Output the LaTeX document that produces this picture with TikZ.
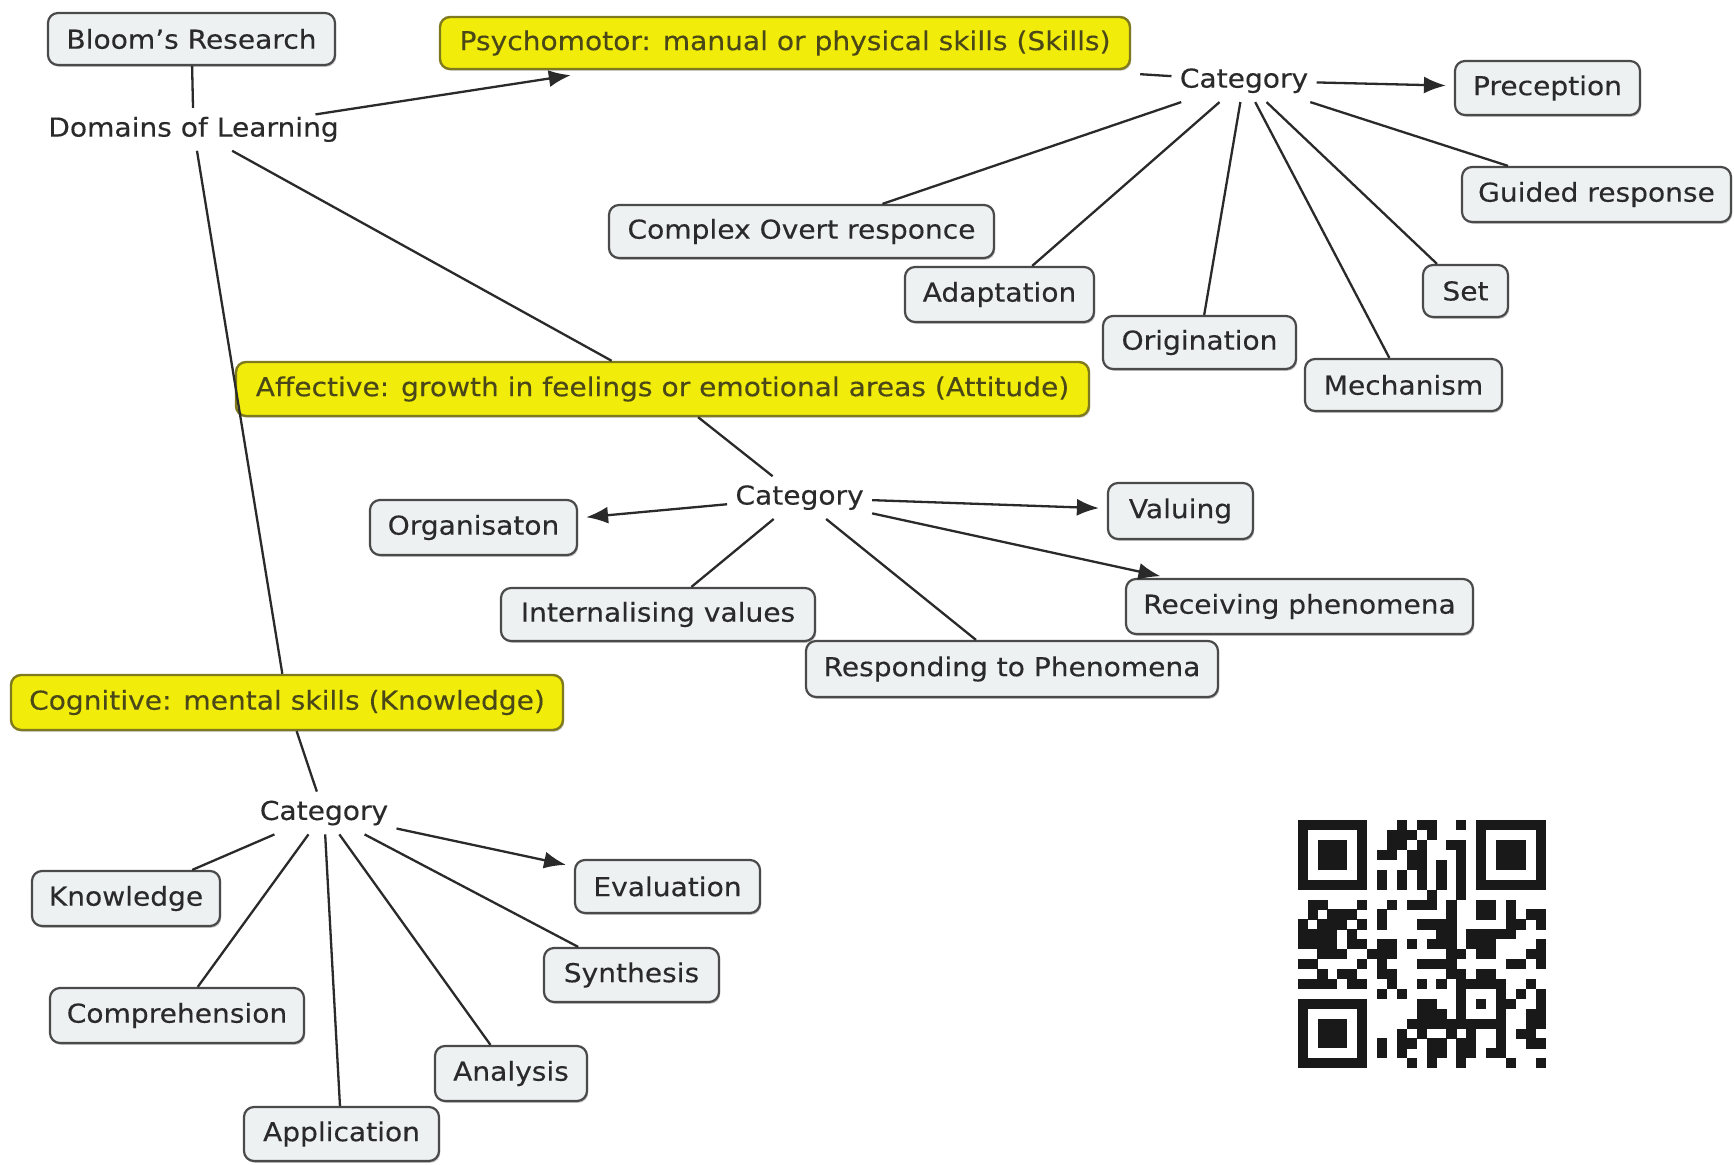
\documentclass[tikz,border=0pt]{standalone}
\usepackage{fontspec}
\setmainfont{DejaVu Sans}[FakeStretch=1.08,FakeBold=0.3]
\usetikzlibrary{arrows.meta,shadows,calc}
\definecolor{boxfill}{HTML}{EEF1F2}
\definecolor{boxline}{HTML}{4A4A4A}
\definecolor{yfill}{HTML}{F2EC0A}
\definecolor{yline}{HTML}{7F7A1E}
\definecolor{ytext}{HTML}{4A4818}
\definecolor{txt}{HTML}{2A2A2A}
\definecolor{conn}{HTML}{2A2A2A}
\begin{document}
\begin{tikzpicture}[x=0.5pt,y=-0.5pt,
  font=\fontsize{13}{15}\selectfont,
  sz/.style 2 args={minimum width=#1*0.5pt, minimum height=#2*0.5pt},
  wbox/.style={draw=boxline, fill=boxfill, line width=1.1pt, rounded corners=5pt, text=txt, inner sep=0pt,
    drop shadow={shadow xshift=0.6pt, shadow yshift=-0.9pt, opacity=0.4, fill=black!60}},
  ybox/.style={draw=yline, fill=yfill, line width=1.2pt, rounded corners=5pt, text=ytext, inner sep=0pt,
    drop shadow={shadow xshift=0.6pt, shadow yshift=-0.9pt, opacity=0.3, fill=black!60}},
  lbl/.style={text=txt, inner xsep=4pt, inner ysep=0pt, minimum height=21pt},
  link/.style={draw=conn, line width=1.15pt},
  arr/.style={link, -{Latex[length=11pt,width=8.5pt]}, shorten >=4pt}
]
\fill[white] (0,0) rectangle (1734,1165);
\useasboundingbox (0,0) rectangle (1734,1165);

% boxes
\node[wbox, sz={287}{52}] (bloom) at (191.5,39) {Bloom's Research};
\node[lbl] (domains) at (193.5,129.4) {Domains of Learning};
\node[ybox, sz={690}{52}] (psych) at (785,43) {Psychomotor: manual or physical skills (Skills)};
\node[lbl] (cat1) at (1244,80.7) {Category};
\node[wbox, sz={185}{54}] (preception) at (1547.5,88) {Preception};
\node[wbox, sz={269}{55}] (guided) at (1596.5,194.5) {Guided response};
\node[wbox, sz={385}{53}] (complex) at (801.5,231.5) {Complex Overt responce};
\node[wbox, sz={189}{55}] (adaptation) at (999.5,294.5) {Adaptation};
\node[wbox, sz={85}{52}] (set) at (1465.5,291) {Set};
\node[wbox, sz={193}{53}] (origination) at (1199.5,342.5) {Origination};
\node[wbox, sz={197}{52}] (mechanism) at (1403.5,385) {Mechanism};

\node[ybox, sz={853}{54}] (affective) at (662.5,389) {Affective: growth in feelings or emotional areas (Attitude)};
\node[lbl] (cat2) at (799.6,497.6) {Category};
\node[wbox, sz={207}{55}] (organisaton) at (473.5,527.5) {Organisaton};
\node[wbox, sz={145}{56}] (valuing) at (1180.5,511) {Valuing};
\node[wbox, sz={314}{53}] (internalising) at (658,614.5) {Internalising values};
\node[wbox, sz={347}{55}] (receiving) at (1299.5,606.5) {Receiving phenomena};
\node[wbox, sz={412}{56}] (responding) at (1012,669) {Responding to Phenomena};

\node[ybox, sz={552}{55}] (cognitive) at (287,702.5) {Cognitive: mental skills (Knowledge)};
\node[lbl] (cat3) at (324,813) {Category};
\node[wbox, sz={188}{55}] (knowledge) at (126,898.5) {Knowledge};
\node[wbox, sz={185}{53}] (evaluation) at (667.5,886.5) {Evaluation};
\node[wbox, sz={175}{54}] (synthesis) at (631.5,975) {Synthesis};
\node[wbox, sz={254}{55}] (comprehension) at (177,1015.5) {Comprehension};
\node[wbox, sz={152}{55}] (analysis) at (511,1073.5) {Analysis};
\node[wbox, sz={195}{54}] (application) at (341.5,1134) {Application};

% connectors
\draw[link] (bloom) -- (domains);
\draw[arr, shorten >=0pt] ($(domains.center)+(122,-15)$) -- ($(psych.south west)+(132,5)$);
\draw[link] (domains) -- (affective);
\draw[link] (domains) -- (cognitive);
\draw[link] ($(psych.south east)+(9,4)$) -- (cat1);
\draw[arr] (cat1) -- (preception);
\foreach \n in {guided,complex,adaptation,origination,mechanism,set}
  \draw[link] (cat1) -- (\n);
\draw[link] (affective) -- (cat2);
\foreach \n in {organisaton,valuing,receiving}
  \draw[arr] (cat2) -- (\n);
\foreach \n in {internalising,responding}
  \draw[link] (cat2) -- (\n);
\draw[link] (cognitive) -- (cat3);
\draw[arr] (cat3) -- (evaluation);
\foreach \n in {knowledge,comprehension,application,analysis,synthesis}
  \draw[link] (cat3) -- (\n);

% QR code
\begin{scope}[shift={(1297.7,820.3)}]
\def\m{9.92}
\foreach \fx/\fy in {0/0,18/0,0/18}{
  \fill[black!90] (\fx*\m,\fy*\m) rectangle ++(7*\m,7*\m);
  \fill[white] (\fx*\m+\m,\fy*\m+\m) rectangle ++(5*\m,5*\m);
  \fill[black!90] (\fx*\m+2*\m,\fy*\m+2*\m) rectangle ++(3*\m,3*\m);
}
\foreach \r/\cs in {0/{10,12,13,16},1/{9,10,11,13},2/{9,10,12,15,16},3/{8,9,11,12,16},
  4/{11,12,14,16},5/{8,10,12,14,16},6/{8,10,12,14,16},7/{13,16},
  8/{1,2,6,9,11,12,13,15,18,19,21},9/{1,3,4,5,8,15,18,19,21,23,24},
  10/{0,2,3,4,6,8,12,13,14,15,21,22,24},11/{0,1,2,3,5,14,15,17,18,19,20,21},
  12/{0,1,2,3,5,6,8,9,11,13,14,15,17,18,19,24},13/{2,3,4,7,8,9,15,16,18,19,23,24},
  14/{0,1,6,8,12,13,14,15,21,22,24},15/{2,4,5,8,9,15,16,18,19},
  16/{0,1,2,3,5,6,9,12,14,16,17,18,19,20,23},17/{8,10,16,20,22,24},
  18/{12,13,16,18,20,21,24},19/{12,13,14,16,20,23,24},
  20/{11,12,13,14,15,16,17,18,19,20,23,24},21/{10,12,15,17,20,22,23},
  22/{8,10,11,13,14,16,17,20,23,24},23/{8,10,13,14,16,17,19,20},24/{11,13,16,21,24}}{
  \foreach \c in \cs {
    \fill[black!90] (\c*\m-0.1,\r*\m-0.1) rectangle ++(\m+0.2,\m+0.2);
  }
}
\end{scope}
\end{tikzpicture}
\end{document}
